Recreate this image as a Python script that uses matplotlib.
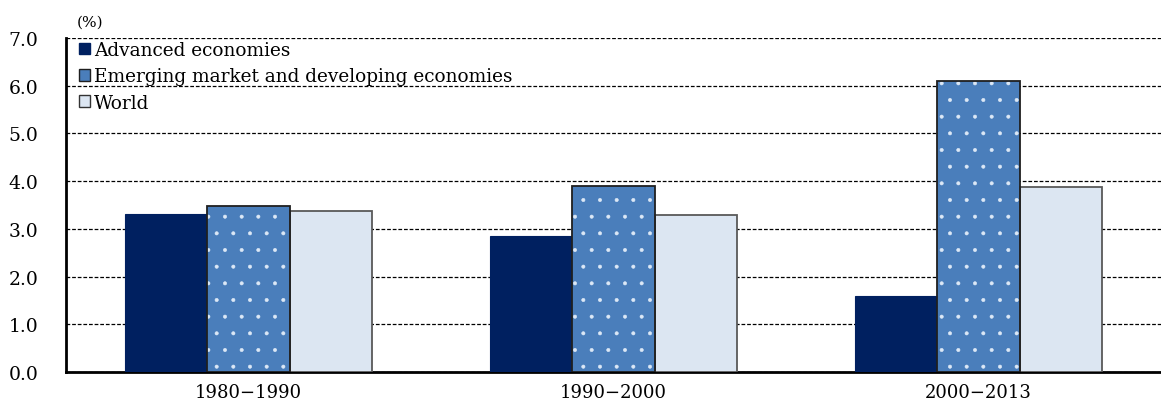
import matplotlib
matplotlib.use('Agg')
import numpy as np
import matplotlib.pyplot as plt
from matplotlib.patches import Patch

periods = ['1980\u22121990', '1990\u22122000', '2000\u22122013']
advanced = [3.31, 2.85, 1.59]
emerging = [3.48, 3.90, 6.10]
world = [3.38, 3.29, 3.88]

plt.rcParams['font.family'] = ['DejaVu Serif']
plt.rcParams['hatch.linewidth'] = 0.4

fig = plt.figure(figsize=(11.61, 4.10), dpi=100)
ax = fig.add_axes([0.0568, 0.0902, 0.9432, 0.8147])

x = np.arange(len(periods))
w = 0.225

ax.bar(x - w, advanced, w, color='#002060', edgecolor='#002060', linewidth=0.8, zorder=3)
# dotted bar: light dots first, then dark outline on top
ax.bar(x, emerging, w, color='#4a7ebb', edgecolor='#dce8f6', linewidth=0, hatch='.', zorder=3)
ax.bar(x, emerging, w, fill=False, edgecolor='#1f1f1f', linewidth=1.3, zorder=4)
ax.bar(x + w, world, w, color='#dce6f2', edgecolor='#595959', linewidth=1.3, zorder=3)

ax.set_xlim(-0.5, 2.5)
ax.set_ylim(0, 7)
ticks = np.arange(0, 7.01, 1.0)
ax.set_yticks(ticks)
ax.set_yticklabels([f'{v:.1f}' for v in ticks], fontsize=13.5)
ax.set_xticks(x)
ax.set_xticklabels(periods, fontsize=13)
ax.tick_params(axis='x', length=0, pad=8)
ax.tick_params(axis='y', length=0, pad=20)

ax.yaxis.grid(True, linestyle=(0, (3, 1.5)), color='black', linewidth=0.9, zorder=0)
ax.set_axisbelow(True)
for s in ['top', 'right']:
    ax.spines[s].set_visible(False)
ax.spines['left'].set_linewidth(2)
ax.spines['bottom'].set_linewidth(2)

fig.text(0.066, 0.935, '(%)', fontsize=11)

handles = [Patch(facecolor='#002060', edgecolor='#002060'),
           Patch(facecolor='#4a7ebb', edgecolor='#1f1f1f'),
           Patch(facecolor='#dce6f2', edgecolor='#333333')]
ax.legend(handles, ['Advanced economies', 'Emerging market and developing economies', 'World'],
          loc='upper left', bbox_to_anchor=(0.0, 1.03), frameon=False, fontsize=13.3,
          handlelength=0.6, handleheight=0.6, handletextpad=0.2, labelspacing=0.45,
          borderaxespad=0.3)

plt.savefig('out.png', dpi=100)
